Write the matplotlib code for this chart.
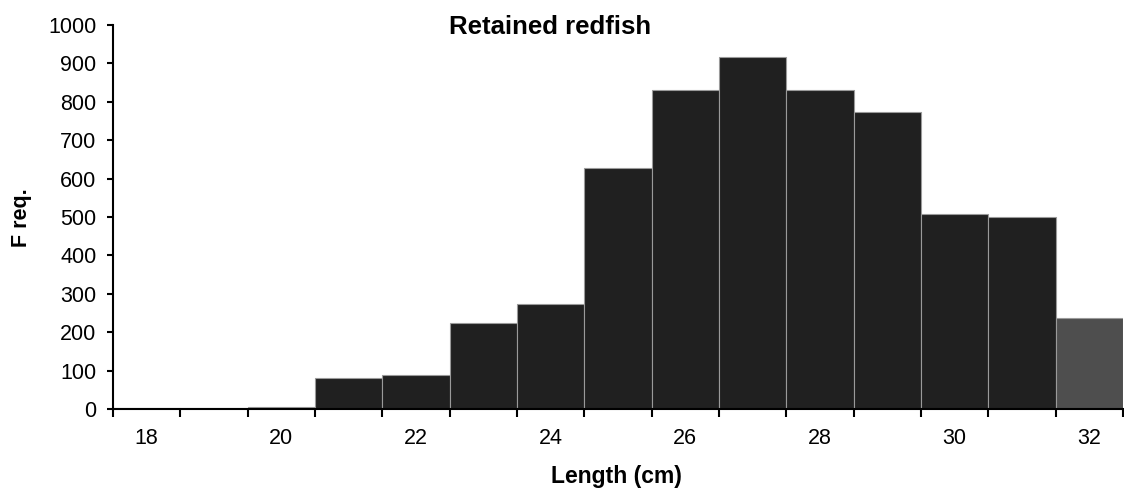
import matplotlib
matplotlib.use("Agg")
import matplotlib.pyplot as plt
import numpy as np

lengths = [18, 19, 20, 21, 22, 23, 24, 25, 26, 27, 28, 29, 30, 31, 32]
freq = [2, 2, 4, 82, 89, 224, 273, 628, 832, 916, 832, 773, 508, 499, 236]
bar_colors = ['#202020'] * 14 + ['#4e4e4e']
x_tick_labels = ['18', '20', '22', '24', '26', '28', '30', '32']
y_ticks = list(range(0, 1001, 100))

plt.rcParams['font.family'] = ['Liberation Sans', 'DejaVu Sans']

fig = plt.figure(figsize=(11.24, 4.96), dpi=100)
ax = fig.add_axes([113/1124, (496-409)/496, (1123-113)/1124, (409-25)/496])

ax.bar(lengths, freq, width=1.0, color=bar_colors, edgecolor='#9a9a9a', linewidth=0.8, zorder=2)

ax.set_xlim(17.5, 32.5)
ax.set_ylim(0, 1000)

ax.spines['top'].set_visible(False)
ax.spines['right'].set_visible(False)
ax.spines['left'].set_linewidth(1.5)
ax.spines['bottom'].set_linewidth(1.5)
ax.spines['left'].set_zorder(3)
ax.spines['bottom'].set_zorder(3)

ax.set_xticks([int(t) for t in x_tick_labels])
ax.set_xticklabels(x_tick_labels, fontsize=15.5)
ax.set_xticks(np.arange(17.5, 32.6, 1.0), minor=True)
ax.tick_params(axis='x', which='major', length=0, pad=14)
ax.tick_params(axis='x', which='minor', length=6, width=1.5, direction='out')

ax.set_yticks(y_ticks)
ax.set_yticklabels([str(v) for v in y_ticks], fontsize=15.5)
ax.tick_params(axis='y', which='major', length=4, width=1.5, direction='out', pad=8)

fig.text(550/1124, 1 - 27/496, 'Retained redfish', fontsize=18.5, fontweight='bold',
         ha='center', va='center')
fig.text(616/1124, 1 - 477/496, 'Length (cm)', fontsize=16.5, fontweight='bold',
         ha='center', va='center')
fig.text(22/1124, 1 - 218/496, 'F req.', fontsize=15.5, fontweight='bold',
         rotation=90, ha='center', va='center')

fig.savefig('out.png', dpi=100)
